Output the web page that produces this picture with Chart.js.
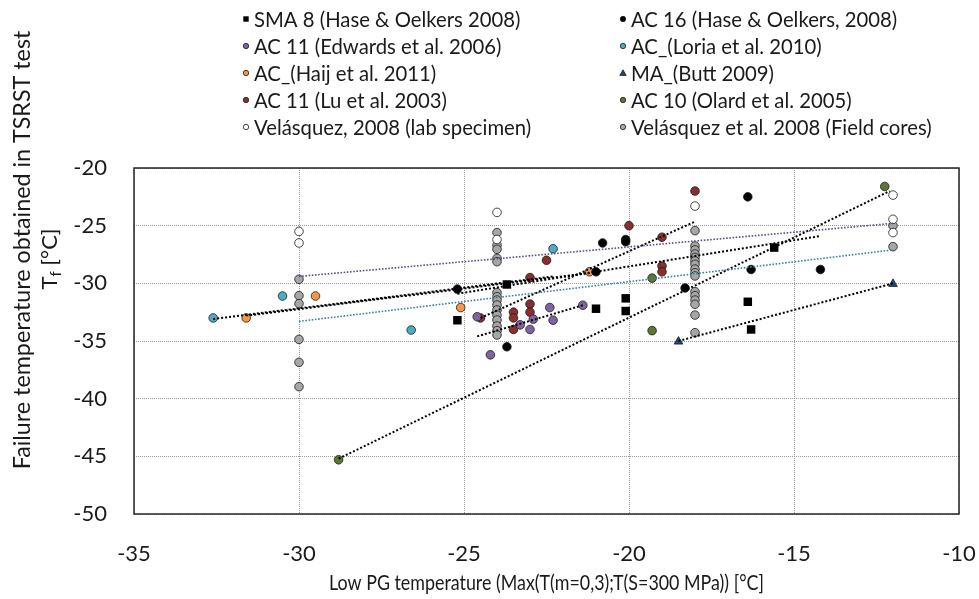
<!DOCTYPE html>
<html><head><meta charset="utf-8">
<script src="https://cdn.jsdelivr.net/npm/chart.js@4/dist/chart.umd.min.js"></script>
<style>html,body{margin:0;padding:0;background:#fff;overflow:hidden}</style>
</head><body>
<canvas id="c" width="979" height="599" style="width:979px;height:599px;display:block"></canvas>
<script>
// ---------- data ----------
const xTicks = [-35, -30, -25, -20, -15, -10];
const yTicks = [-50, -45, -40, -35, -30, -25, -20];
const xTitle = 'Low PG temperature (Max(T(m=0,3);T(S=300 MPa)) [°C]';
const yTitle1 = 'Failure temperature obtained in TSRST test';
const yTitle2 = ['T', 'f', ' [°C]'];

const names = [
  'SMA 8 (Hase & Oelkers 2008)', 'AC 16 (Hase & Oelkers, 2008)',
  'AC 11 (Edwards et al. 2006)', 'AC_(Loria et al. 2010)',
  'AC_(Haij et al. 2011)', 'MA_(Butt 2009)',
  'AC 11 (Lu et al. 2003)', 'AC 10 (Olard et al. 2005)',
  'Velásquez, 2008 (lab specimen)', 'Velásquez et al. 2008 (Field cores)'
];

const smaX = [-25.2, -23.7, -21.0, -20.1, -20.1, -16.4, -16.3, -15.6];
const smaY = [-33.2, -30.1, -32.2, -31.3, -32.4, -31.6, -34.0, -26.9];

const ac16X = [-25.2, -23.7, -20.8, -20.1, -20.1, -21.0, -18.3, -16.4, -16.3, -14.2];
const ac16Y = [-30.5, -35.5, -26.5, -26.2, -26.4, -29.0, -30.4, -22.5, -28.8, -28.8];

const edwX = [-24.6, -24.2, -23.3, -22.9, -23.0, -22.4, -22.3, -21.4];
const edwY = [-32.9, -36.2, -33.6, -33.1, -34.0, -32.1, -33.2, -31.9];

const loriaX = [-32.6, -30.5, -26.6, -22.3];
const loriaY = [-33.0, -31.1, -34.05, -27.0];

const haijX = [-31.6, -29.5, -25.1, -21.2];
const haijY = [-33.0, -31.1, -32.1, -29.0];

const buttX = [-18.5, -12.0];
const buttY = [-35.05, -30.05];

const luX = [-24.5, -23.5, -23.5, -23.5, -23.0, -23.0, -23.0, -22.5, -20.0, -19.0, -19.0, -19.0, -18.0];
const luY = [-33.0, -32.5, -33.0, -34.0, -31.8, -32.5, -29.5, -28.0, -25.0, -26.0, -28.5, -29.0, -22.0];

const olardX = [-28.8, -19.3, -19.3, -12.25];
const olardY = [-45.3, -29.55, -34.1, -21.6];

const labX = [-30, -30, -24, -24, -18, -12, -12, -12];
const labY = [-25.5, -26.5, -23.85, -26.2, -23.3, -22.35, -24.45, -25.6];

const fieldX = [-30, -30, -30, -30, -30, -30,
  -24, -24, -24, -24, -24, -24, -24, -24, -24, -24, -24, -24, -24, -24, -24,
  -18, -18, -18, -18, -18, -18, -18, -18, -18, -18, -18, -18, -18, -18, -18, -18,
  -12, -12];
const fieldY = [-29.65, -31.07, -31.76, -34.86, -36.85, -38.96,
  -25.6, -26.7, -27.05, -27.83, -28.12, -30.8, -31.16, -31.45, -31.88, -32.31, -32.75, -33.18, -33.7, -34.1, -34.48,
  -25.43, -26.76, -27.1, -27.46, -27.75, -28.06, -28.35, -28.76, -29.08, -29.36, -30.72, -31.07, -31.45, -31.82, -32.75, -34.28,
  -25.0, -26.82];

// trend lines (end points)
const trendLabX = [-30, -12],      trendLabY = [-29.4, -24.8];
const trendFieldX = [-30, -12],    trendFieldY = [-33.3, -27.1];
const trendOlardX = [-28.8, -12.1], trendOlardY = [-45.2, -22.0];
const trendButtX = [-18.5, -12.0], trendButtY = [-35.0, -30.0];
const trendEdwX = [-24.6, -21.4],  trendEdwY = [-34.6, -31.9];
const trendLuX = [-24.5, -18.0],   trendLuY = [-33.0, -24.65];
const trendLoriaX = [-32.6, -22.3], trendLoriaY = [-33.1, -29.4];
const trendHaijX = [-31.6, -21.2], trendHaijY = [-32.8, -29.1];
const trendAc16X = [-25.2, -14.2], trendAc16Y = [-30.9, -25.9];

// ---------- helpers ----------
const pts = (xs, ys) => xs.map((v, i) => ({x: v, y: ys[i]}));

const FONT = 'Lato, "Open Sans", sans-serif';

function series(label, xs, ys, fill, style, r) {
  return {
    type: 'scatter', label, data: pts(xs, ys), order: 2,
    backgroundColor: fill, borderColor: style === 'rect' ? fill : '#1a1a1a',
    borderWidth: style === 'rect' ? 0 : 0.8,
    pointStyle: style, pointRadius: r, pointHoverRadius: r
  };
}
function trend(xs, ys, color, w, dash) {
  return {
    type: 'line', label: '_trend', data: pts(xs, ys), order: 1,
    borderColor: color, borderWidth: w, borderDash: dash,
    pointRadius: 0, fill: false, showLine: true, tension: 0
  };
}

const seriesSets = [
  series(names[0], smaX, smaY, '#000000', 'rect', 6),
  series(names[1], ac16X, ac16Y, '#000000', 'circle', 4.3),
  series(names[2], edwX, edwY, '#8064A2', 'circle', 4.3),
  series(names[3], loriaX, loriaY, '#4BACC6', 'circle', 4.3),
  series(names[4], haijX, haijY, '#F79646', 'circle', 4.3),
  series(names[5], buttX, buttY, '#1F497D', 'triangle', 5),
  series(names[6], luX, luY, '#8B2E2E', 'circle', 4.3),
  series(names[7], olardX, olardY, '#5F7530', 'circle', 4.3),
  series(names[8], labX, labY, '#FFFFFF', 'circle', 4.3),
  series(names[9], fieldX, fieldY, '#A6A6A6', 'circle', 4.3)
];
const trendSets = [
  trend(trendLabX, trendLabY, '#5F4B8B', 1.6, [1.6, 1.6]),
  trend(trendFieldX, trendFieldY, '#31859C', 1.6, [1.6, 1.6]),
  trend(trendOlardX, trendOlardY, '#000000', 2, [2, 2]),
  trend(trendButtX, trendButtY, '#000000', 2, [2, 2]),
  trend(trendEdwX, trendEdwY, '#000000', 2, [2, 2]),
  trend(trendLuX, trendLuY, '#000000', 2, [2, 2]),
  trend(trendLoriaX, trendLoriaY, '#000000', 2, [2, 2]),
  trend(trendHaijX, trendHaijY, '#000000', 2, [2, 2]),
  trend(trendAc16X, trendAc16Y, '#000000', 2, [2, 2])
];

// horizontally scaled text helper
function sText(ctx, str, x, y, align, k) {
  ctx.save();
  ctx.translate(x, y);
  ctx.scale(k, 1);
  ctx.textAlign = align;
  ctx.fillText(str, 0, 0);
  ctx.restore();
}

const overlay = {
  id: 'overlay',
  afterDraw(chart) {
    const {ctx, chartArea: a} = chart;
    const xs = chart.scales.x, ys = chart.scales.y;
    ctx.save();
    // plot frame
    ctx.strokeStyle = '#262626';
    ctx.lineWidth = 1.5;
    ctx.strokeRect(a.left, a.top, a.right - a.left, a.bottom - a.top);

    ctx.fillStyle = '#1a1a1a';
    ctx.textBaseline = 'middle';
    // tick labels
    ctx.font = '22px ' + FONT;
    yTicks.forEach(v => sText(ctx, String(v), a.left - 27, ys.getPixelForValue(v), 'right', 1.0));
    xTicks.forEach(v => sText(ctx, String(v), xs.getPixelForValue(v), 554, 'center', 1.0));

    // x title
    ctx.font = '21px ' + FONT;
    sText(ctx, xTitle, (a.left + a.right) / 2, 583, 'center', 0.85);

    // y title (rotated)
    ctx.save();
    ctx.translate(22, 250);
    ctx.rotate(-Math.PI / 2);
    ctx.font = '23.3px ' + FONT;
    sText(ctx, yTitle1, 0, 0, 'center', 1.0);
    ctx.restore();
    ctx.save();
    ctx.translate(50, 259);
    ctx.rotate(-Math.PI / 2);
    ctx.font = '22px ' + FONT;
    const wT = ctx.measureText(yTitle2[0]).width;
    ctx.font = '15px ' + FONT;
    const wf = ctx.measureText(yTitle2[1]).width;
    ctx.font = '22px ' + FONT;
    const wR = ctx.measureText(yTitle2[2]).width;
    let sx = -(wT + wf + wR) / 2;
    ctx.textAlign = 'left';
    ctx.fillText(yTitle2[0], sx, 0);
    ctx.font = '15px ' + FONT;
    ctx.fillText(yTitle2[1], sx + wT, 6);
    ctx.font = '22px ' + FONT;
    ctx.fillText(yTitle2[2], sx + wT + wf, 0);
    ctx.restore();

    // legend (two columns, row-major order)
    const colMarkX = [246, 623];
    const rowY = [19, 46, 73, 100, 127];
    ctx.font = '20.3px ' + FONT;
    seriesSets.forEach((ds, i) => {
      const col = i % 2, row = Math.floor(i / 2);
      const mx = colMarkX[col], my = rowY[row];
      ctx.save();
      ctx.fillStyle = ds.backgroundColor;
      ctx.strokeStyle = '#1a1a1a';
      ctx.lineWidth = 0.8;
      ctx.beginPath();
      if (ds.pointStyle === 'rect') {
        ctx.rect(mx - 2.7, my - 2.7, 5.4, 5.4);
        ctx.fill();
      } else if (ds.pointStyle === 'triangle') {
        ctx.moveTo(mx, my - 3.2); ctx.lineTo(mx + 3.2, my + 2.4); ctx.lineTo(mx - 3.2, my + 2.4); ctx.closePath();
        ctx.fill(); ctx.stroke();
      } else {
        ctx.arc(mx, my, 2.7, 0, Math.PI * 2);
        ctx.fill(); ctx.stroke();
      }
      ctx.restore();
      ctx.fillStyle = '#1a1a1a';
      sText(ctx, ds.label, mx + 8, my + 1, 'left', 1.0);
    });
    ctx.restore();
  }
};

new Chart(document.getElementById('c'), {
  data: {datasets: [...trendSets, ...seriesSets]},
  options: {
    responsive: false, animation: false, devicePixelRatio: 1,
    layout: {padding: {top: 168, right: 20, bottom: 0, left: 0}},
    plugins: {legend: {display: false}, tooltip: {enabled: false}},
    scales: {
      x: {
        type: 'linear', min: -35, max: -10,
        afterFit: s => { s.height = 85; },
        afterBuildTicks: s => { s.ticks = xTicks.map(v => ({value: v})); },
        ticks: {display: false},
        grid: {color: '#9a9a9a', lineWidth: 1, drawTicks: false},
        border: {display: false, dash: [1, 1]}
      },
      y: {
        type: 'linear', min: -50, max: -20,
        afterFit: s => { s.width = 134; },
        afterBuildTicks: s => { s.ticks = yTicks.map(v => ({value: v})); },
        ticks: {display: false},
        grid: {color: '#9a9a9a', lineWidth: 1, drawTicks: false},
        border: {display: false, dash: [1, 1]}
      }
    }
  },
  plugins: [overlay]
});
</script>
</body></html>
